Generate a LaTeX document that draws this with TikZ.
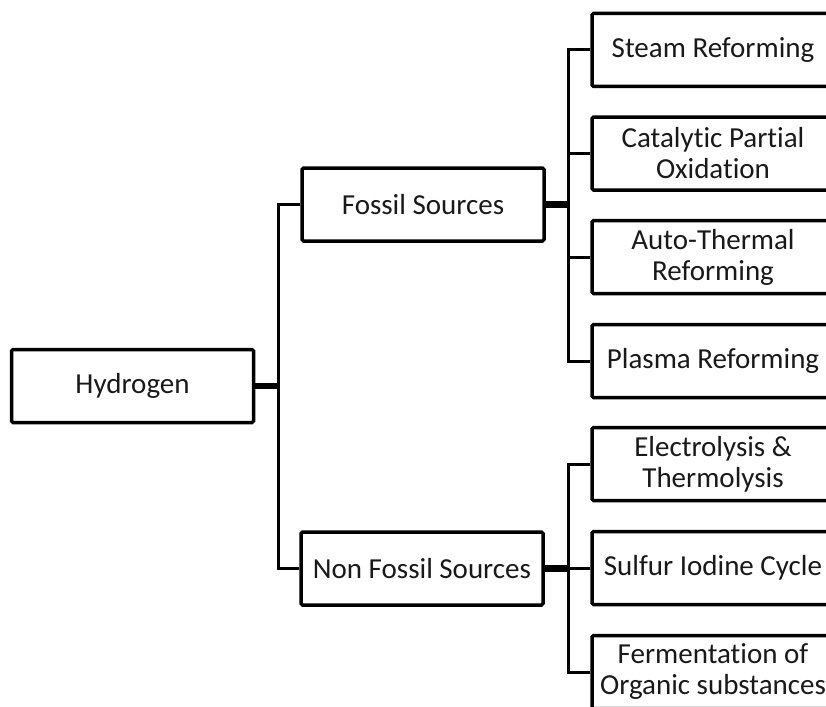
\documentclass[tikz,border=0pt]{standalone}
\usepackage{fontspec}
\setmainfont{Carlito}[Ligatures={NoCommon,NoRequired,NoContextual}]
\begin{document}
\begin{tikzpicture}[x=1pt,y=-1pt,
  box/.style={draw, line width=3.5pt, rounded corners=1.5pt, minimum width=242pt, minimum height=73pt,
    inner sep=0pt, align=center, font=\fontsize{29}{31}\selectfont, text=black!90},
  conn/.style={line width=3pt},
  trunk/.style={line width=6.5pt}]
\clip (0,0) rectangle (826,706);
\fill[white] (0,0) rectangle (826,706);
% left and middle boxes
\node[box] (H) at (132.5,386) {Hydrogen};
\node[box] (F) at (423,204.5) {Fossil Sources};
\node[box] (N) at (422,568.5) {Non Fossil Sources};
% right boxes
\node[box] (S1) at (713,50) {Steam Reforming};
\node[box] (S2) at (713,153.5) {Catalytic Partial\\Oxidation};
\node[box] (S3) at (713,257) {Auto-Thermal\\Reforming};
\node[box] (S4) at (713,361) {Plasma Reforming};
\node[box] (T1) at (713,464) {Electrolysis \&\\Thermolysis};
\node[box] (T2) at (713,568) {Sulfur Iodine Cycle};
\node[box] (T3) at (713,672) {Fermentation of\\Organic substances};
% bus coordinates
\coordinate (b1) at (278,386);
\coordinate (b2) at (568,204.5);
\coordinate (b3) at (568,568.5);
% connectors
\draw[trunk] (H.east) -- (b1);
\draw[conn] (F.west) -- (F.west -| b1) -- (N.west -| b1) -- (N.west);
\draw[trunk] (F.east) -- (b2);
\draw[conn] (S1.west) -- (S1.west -| b2) -- (S4.west -| b2) -- (S4.west);
\draw[conn] (S2.west) -- (S2.west -| b2);
\draw[conn] (S3.west) -- (S3.west -| b2);
\draw[trunk] (N.east) -- (b3);
\draw[conn] (T1.west) -- (T1.west -| b3) -- (T3.west -| b3) -- (T3.west);
\draw[conn] (T2.west) -- (T2.west -| b3);
\end{tikzpicture}
\end{document}
